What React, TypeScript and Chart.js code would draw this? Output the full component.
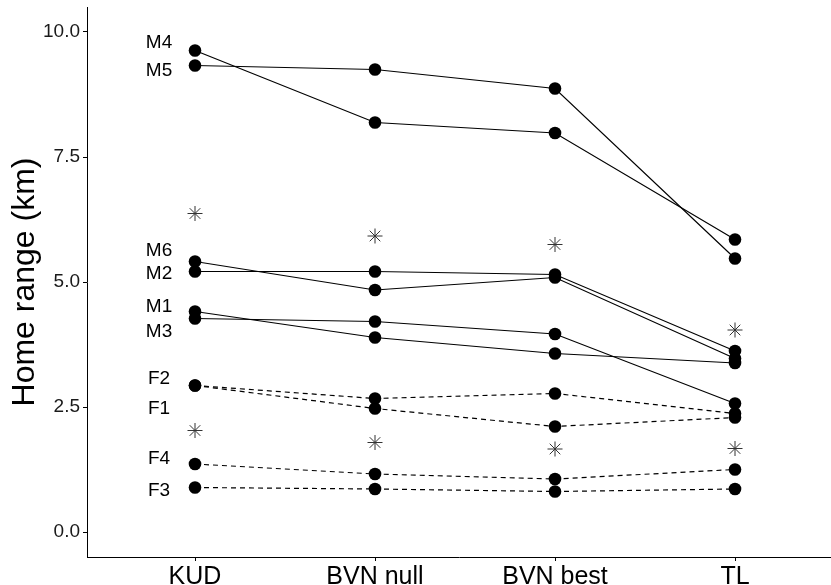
import React, { useEffect, useRef } from "react";
import { Chart, registerables } from "chart.js";

Chart.register(...registerables);

const categories = ["KUD", "BVN null", "BVN best", "TL"];
const yTickValues = [0, 2.5, 5, 7.5, 10];

const M4 = [9.63, 8.19, 7.98, 5.85];
const M5 = [9.33, 9.25, 8.87, 5.47];
const M6 = [5.41, 4.84, 5.09, 3.47];
const M2 = [5.21, 5.21, 5.15, 3.62];
const M1 = [4.41, 3.89, 3.57, 3.38];
const M3 = [4.27, 4.21, 3.96, 2.57];
const F2 = [2.93, 2.67, 2.77, 2.37];
const F1 = [2.93, 2.47, 2.11, 2.29];
const F4 = [1.36, 1.16, 1.06, 1.25];
const F3 = [0.89, 0.86, 0.81, 0.86];

const maleMean = [6.37, 5.92, 5.75, 4.04];
const femaleMean = [2.03, 1.79, 1.66, 1.67];

const labelNames = ["M4", "M5", "M6", "M2", "M1", "M3", "F2", "F1", "F4", "F3"];
const labelValues = [9.79, 9.22, 5.62, 5.17, 4.51, 4.0, 3.07, 2.47, 1.47, 0.83];
const labelXPos = 0.8;

const FONT = "'Liberation Sans', Arial, Helvetica, sans-serif";

const toPts = (arr: number[]) => arr.map((v, i) => ({ x: i + 1, y: v }));

export default function App() {
  const ref = useRef<HTMLCanvasElement | null>(null);

  useEffect(() => {
    if (!ref.current) return;
    const solid = [M4, M5, M6, M2, M1, M3];
    const dashed = [F2, F1, F4, F3];
    const lineDs = (arr: number[], dash: number[]) => ({
      type: "line" as const,
      data: toPts(arr),
      borderColor: "#000",
      borderWidth: 1.2,
      borderDash: dash,
      pointRadius: 6.3,
      pointBackgroundColor: "#000",
      pointBorderWidth: 0,
      pointBorderColor: "#000",
      fill: false,
      tension: 0,
    });
    const starDs = (arr: number[]) => ({
      type: "line" as const,
      data: toPts(arr),
      showLine: false,
      pointStyle: "star" as const,
      pointRadius: 7.5,
      pointBorderColor: "#333",
      pointBorderWidth: 1,
      pointBackgroundColor: "rgba(0,0,0,0)",
      borderColor: "#333",
    });

    const labelPlugin = {
      id: "rowLabels",
      afterDatasetsDraw(chart: any) {
        const { ctx, scales } = chart;
        ctx.save();
        ctx.font = `19px ${FONT}`;
        ctx.fillStyle = "#000";
        ctx.textAlign = "center";
        ctx.textBaseline = "middle";
        labelNames.forEach((n, i) => {
          ctx.fillText(n, scales.x.getPixelForValue(labelXPos), scales.y.getPixelForValue(labelValues[i]));
        });
        ctx.restore();
      },
    };

    const chart = new Chart(ref.current, {
      type: "line",
      data: {
        datasets: [
          ...solid.map((a) => lineDs(a, [])),
          ...dashed.map((a) => lineDs(a, [5, 4])),
          starDs(maleMean),
          starDs(femaleMean),
        ] as any,
      },
      options: {
        animation: false,
        responsive: false,
        events: [],
        layout: { autoPadding: false, padding: { top: 7, left: 0, right: 0, bottom: 0 } },
        plugins: { legend: { display: false }, tooltip: { enabled: false } },
        scales: {
          x: {
            type: "linear",
            min: 0.4,
            max: 4.5333,
            afterBuildTicks: (s: any) => {
              s.ticks = categories.map((_, i) => ({ value: i + 1 }));
            },
            afterFit: (s: any) => {
              s.height = 28;
              s.paddingLeft = 0;
              s.paddingRight = 0;
              s.paddingTop = 0;
              s.paddingBottom = 0;
            },
            ticks: {
              autoSkip: false,
              maxRotation: 0,
              padding: 1,
              color: "#000",
              font: { family: FONT, size: 25 },
              callback: (v: any) => categories[Math.round(Number(v)) - 1] ?? "",
            },
            grid: { display: true, drawOnChartArea: false, drawTicks: true, tickLength: 4, color: "#000", lineWidth: 1 },
            border: { display: true, color: "#000", width: 1 },
          },
          y: {
            type: "linear",
            min: -0.5,
            max: 10.5,
            afterBuildTicks: (s: any) => {
              s.ticks = yTickValues.map((v) => ({ value: v }));
            },
            afterFit: (s: any) => {
              s.width = 87;
              s.paddingLeft = 0;
              s.paddingRight = 0;
              s.paddingTop = 0;
              s.paddingBottom = 0;
            },
            ticks: {
              padding: 3,
              color: "#1a1a1a",
              font: { family: FONT, size: 19 },
              callback: (v: any) => Number(v).toFixed(1),
            },
            title: {
              display: true,
              text: "Home range (km)",
              color: "#000",
              font: { family: FONT, size: 32 },
              padding: { top: 6, bottom: 0 },
            },
            grid: { display: true, drawOnChartArea: false, drawTicks: true, tickLength: 4, color: "#000", lineWidth: 1 },
            border: { display: true, color: "#000", width: 1 },
          },
        },
      },
      plugins: [labelPlugin],
    });
    return () => chart.destroy();
  }, []);

  return (
    <div style={{ position: "absolute", left: 0, top: 0, width: 831, height: 585, background: "#fff" }}>
      <canvas ref={ref} width={831} height={585} />
    </div>
  );
}
